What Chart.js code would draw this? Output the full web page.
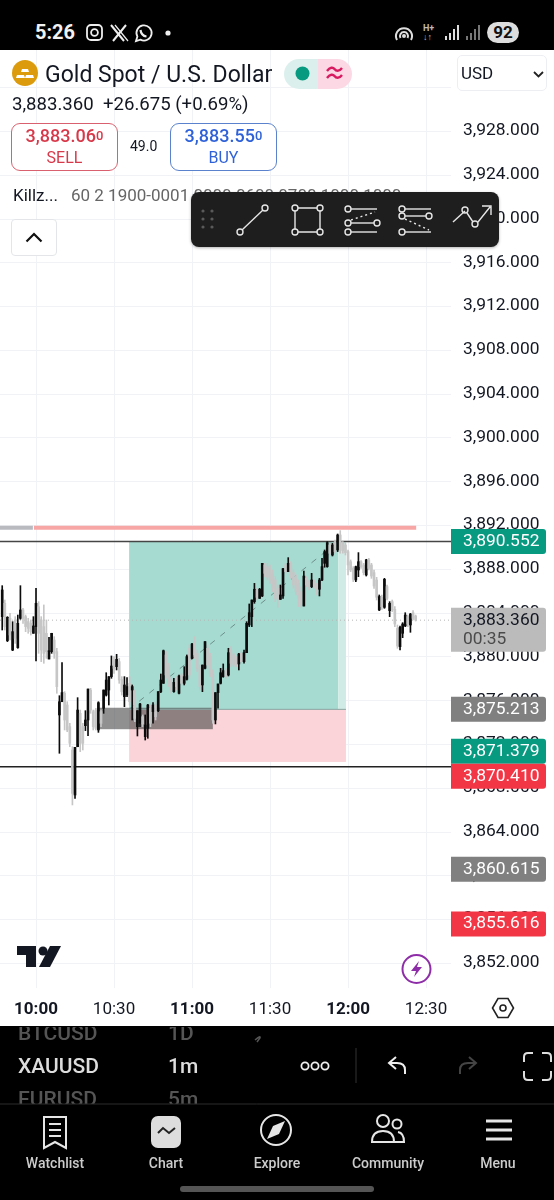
<!DOCTYPE html>
<html>
<head>
<meta charset="utf-8">
<title>Gold Spot / U.S. Dollar</title>
<script src="https://cdn.jsdelivr.net/npm/chart.js@4"></script>
<style>
html,body{margin:0;padding:0;background:#fff}
body{width:554px;height:1200px;position:relative;overflow:hidden;font-family:Roboto,sans-serif;color:#131722}
#chart{position:absolute;left:0;top:50px}
.a{position:absolute;white-space:nowrap}
svg{position:absolute;overflow:visible}
.btn{position:absolute;box-sizing:border-box;width:107px;height:48px;top:123px;border-radius:9px;background:#fff;text-align:center}
.btn b{display:block;font-weight:500;font-size:18px;line-height:20px;margin-top:2px}
.btn b small{font-size:13px;position:relative;top:-2px}
.btn span{display:block;font-size:16px;line-height:20px}
.nav{position:absolute;top:1155px;font-size:14px;font-weight:500;color:#ccc;transform:translateX(-50%)}
.row{position:absolute;font-size:21px;font-weight:500}
</style>
</head>
<body>
<canvas id="chart" width="554" height="976"></canvas>

<!-- status bar -->
<div class="a" style="left:0;top:0;width:554px;height:50px;background:#000"></div>
<div class="a" style="left:35px;top:20px;font-size:20px;font-weight:700;color:#f2f2f2">5:26</div>
<svg style="left:86px;top:24px" width="18" height="18" fill="none" stroke="#eee" stroke-width="1.8"><rect x="1" y="1" width="15" height="15" rx="4"/><circle cx="8.5" cy="8.5" r="3.4"/></svg>
<svg style="left:110px;top:24px" width="20" height="18" stroke="#eee" fill="none"><path d="M1 1 L14 17 M16 1 L3 17" stroke-width="2"/><path d="M5 1 L18 17" stroke-width="1.2"/></svg>
<svg style="left:134px;top:24px" width="19" height="19" fill="none" stroke="#eee" stroke-width="1.8"><path d="M2 17 L3.4 12.6 A7.6 7.6 0 1 1 6.4 15.6 Z"/><path d="M6.5 6 C7 10 9 12 12.5 12.5" stroke-width="2.2"/></svg>
<svg style="left:165px;top:30px" width="6" height="6"><circle cx="3" cy="3" r="2.6" fill="#eee"/></svg>
<svg style="left:395px;top:25px" width="18" height="18" fill="none" stroke="#ddd" stroke-width="2"><path d="M2 15 A8 8 0 1 1 16 15"/><path d="M5.5 13 A4 4 0 1 1 12.5 13"/><circle cx="9" cy="11" r="1" fill="#ddd"/></svg>
<div class="a" style="left:423px;top:24px;font-size:9px;font-weight:700;color:#bbb;line-height:9px">H+<br>↓↑</div>
<svg style="left:444px;top:24px" width="38" height="18" fill="#ddd"><rect x="1" y="12" width="2" height="4"/><rect x="5" y="9" width="2" height="7"/><rect x="9" y="5" width="2" height="11"/><rect x="13" y="1" width="2" height="15" /><g fill="#777"><rect x="22" y="12" width="2" height="4"/><rect x="26" y="9" width="2" height="7"/><rect x="30" y="5" width="2" height="11"/><rect x="34" y="1" width="2" height="15"/></g></svg>
<div class="a" style="left:487px;top:22px;width:32px;height:21px;border-radius:11px;background:#ddd;color:#111;font-size:17px;font-weight:700;text-align:center;line-height:21px">92</div>

<!-- symbol header -->
<svg style="left:12px;top:60px" width="27" height="27"><circle cx="13" cy="13" r="13" fill="#dc9b0c"/><path d="M10 9h6l1 3H9zM5 15h7l1 3H4zM14 15h7l1 3h-9z" fill="#fff"/></svg>
<div class="a" style="left:45px;top:61px;font-size:23px">Gold Spot / U.S. Dollar</div>
<div class="a" style="left:284px;top:59px;width:34px;height:30px;border-radius:15px 0 0 15px;background:#dbf0ec"></div>
<div class="a" style="left:318px;top:59px;width:34px;height:30px;border-radius:0 15px 15px 0;background:#fbd8e3"></div>
<svg style="left:295px;top:66px" width="15" height="15"><circle cx="7.5" cy="7.5" r="7" fill="#089981"/></svg>
<svg style="left:326px;top:66px" width="17" height="15" fill="none" stroke="#d81b60" stroke-width="2.4"><path d="M1 5 C4 1 7 1 8.500 3 S13 6 16 2"/><path d="M1 12 C4 8 7 8 8.500 10 S13 13 16 9"/></svg>
<div class="a" style="left:457px;top:55px;width:90px;height:36px;box-sizing:border-box;border:1px solid #eceef2;border-radius:5px;background:#fff"></div>
<div class="a" style="left:461px;top:63px;font-size:17px">USD</div>
<svg style="left:533px;top:71px" width="11" height="7" fill="none" stroke="#222" stroke-width="1.8"><path d="M1 1 L5.500 5.500 L10 1"/></svg>
<div class="a" style="left:12px;top:93px;font-size:18.600px">3,883.360&nbsp; +26.675 (+0.69%)</div>
<div class="btn" style="left:11px;border:1px solid #d9616f;color:#d8394a"><b>3,883.06<small>0</small></b><span>SELL</span></div>
<div class="a" style="left:130px;top:138px;font-size:14px">49.0</div>
<div class="btn" style="left:170px;border:1px solid #5b82cc;color:#2f62d9"><b>3,883.55<small>0</small></b><span>BUY</span></div>
<div class="a" style="left:13px;top:185px;font-size:17px">Killz...</div>
<div class="a" style="left:71px;top:185px;font-size:17px;color:#666">60 2 1900-0001 0000 0600 0700 1000 1000</div>
<div class="a" style="left:11px;top:219px;width:46px;height:37px;box-sizing:border-box;border:1px solid #e3e5e9;border-radius:4px;background:#fff"></div>
<svg style="left:25px;top:232px" width="18" height="11" fill="none" stroke="#111" stroke-width="2.2"><path d="M1.500 9.500 L9 2 L16.500 9.500"/></svg>

<!-- drawing toolbar -->
<div class="a" style="left:191px;top:192px;width:308px;height:55px;border-radius:8px;background:#1e1e1e;box-shadow:0 1px 3px rgba(0,0,0,.3)"></div>
<svg style="left:191px;top:192px" width="308" height="55" fill="none" stroke="#e6e6e6" stroke-width="1.4">
  <g fill="#5a5a5a" stroke="none"><circle cx="12" cy="19" r="1.600"/><circle cx="21" cy="19" r="1.600"/><circle cx="12" cy="27" r="1.600"/><circle cx="21" cy="27" r="1.600"/><circle cx="12" cy="35" r="1.600"/><circle cx="21" cy="35" r="1.600"/></g>
  <circle cx="49" cy="40" r="3"/><circle cx="74" cy="16" r="3"/><path d="M51 38 L72 18"/>
  <circle cx="104" cy="16" r="3"/><circle cx="129" cy="16" r="3"/><circle cx="104" cy="40" r="3"/><circle cx="129" cy="40" r="3"/><path d="M107 16H126M107 40H126M104 19V37M129 19V37"/>
  <circle cx="157" cy="17" r="3"/><path d="M160 17H186"/><circle cx="157" cy="31" r="3"/><circle cx="186" cy="31" r="3"/><path d="M160 31H183"/><circle cx="157" cy="40" r="3"/><path d="M160 40H186"/><path d="M160 28 L184 20" stroke-dasharray="2 3"/>
  <circle cx="211" cy="17" r="3"/><path d="M214 17H240"/><circle cx="211" cy="24" r="3"/><circle cx="238" cy="24" r="3"/><path d="M214 24H235"/><circle cx="211" cy="40" r="3"/><path d="M214 40H240"/><path d="M214 27 L238 38" stroke-dasharray="2 3"/>
  <path d="M262 30 L274 19"/><circle cx="274" cy="18" r="3"/><path d="M276 21 L282 30"/><circle cx="284" cy="32" r="3"/><path d="M287 30 L299 15 M291 14 H300 V23"/>
</svg>

<!-- chart overlay marks -->
<svg style="left:17px;top:945px" width="44" height="23" fill="#131722"><path d="M0 1H19V22H9V10H0Z"/><circle cx="26" cy="6" r="4.500"/><path d="M33 1H44L33 22H22Z"/></svg>
<svg style="left:401px;top:954px" width="30" height="30" fill="none"><circle cx="15.500" cy="15" r="14" stroke="#8e2da8" stroke-width="2" fill="#fff"/><path d="M18 7 L10 17 H15 L13 23 L21 13 H16Z" fill="#8e2da8"/></svg>
<svg style="left:492px;top:997px" width="23" height="22" fill="none" stroke="#222" stroke-width="1.600"><path d="M6 1.500H16L21.500 11L16 20.500H6L0.500 11Z"/><circle cx="11" cy="11" r="3"/></svg>

<!-- bottom black area -->
<div class="a" style="left:0;top:1026px;width:554px;height:174px;background:#000"></div>
<div class="a" style="left:0;top:1027px;width:554px;height:77px;overflow:hidden">
  <div class="row" style="left:18px;top:-6px;color:#555">BTCUSD</div>
  <div class="row" style="left:168px;top:-6px;color:#555">1D</div>
  <div class="row" style="left:18px;top:27px;color:#ddd">XAUUSD</div>
  <div class="row" style="left:168px;top:27px;color:#ddd">1m</div>
  <div class="row" style="left:18px;top:60px;color:#555">EURUSD</div>
  <div class="row" style="left:168px;top:60px;color:#555">5m</div>
</div>
<svg style="left:0;top:1027px" width="554" height="173" fill="none">
  <path d="M255 13 Q261 8 260 11 L257 15" stroke="#555" stroke-width="1.500"/>
  <circle cx="305" cy="39" r="3.600" stroke="#eee" stroke-width="1.800"/><circle cx="315" cy="39" r="3.600" stroke="#eee" stroke-width="1.800"/><circle cx="325" cy="39" r="3.600" stroke="#eee" stroke-width="1.800"/>
  <path d="M356 21V56" stroke="#333"/>
  <path d="M405 47 V43 Q405 36 397 36 H390 M396 30 L389 36 L396 42" stroke="#eee" stroke-width="2"/>
  <path d="M460 47 V43 Q460 36 468 36 H475 M469 30 L476 36 L469 42" stroke="#444" stroke-width="2"/>
  <path d="M533 26 H528 Q524 26 524 30 V35 M524 44 V49 Q524 53 528 53 H533 M542 26 H547 Q551 26 551 30 V35 M551 44 V49 Q551 53 547 53 H542" stroke="#ddd" stroke-width="2"/>
  <path d="M0 77H554" stroke="#2c2c2c"/>
</svg>
<svg style="left:0;top:1104px" width="554" height="96" fill="none" stroke="#e6e6e6" stroke-width="2">
  <path d="M44 13H66V44L55 38L44 44Z M49 20H61M49 26H61M49 32H61"/>
  <rect x="151" y="12" width="30" height="32" rx="7" fill="#ddd" stroke="none"/><path d="M158 29 L163 24 L169 29 L175 24" stroke="#222"/>
  <circle cx="276" cy="26" r="15"/><path d="M285 17 L279 30 L267 35 L273 22Z" fill="#e6e6e6" stroke="none"/>
  <circle cx="383" cy="17" r="6"/><path d="M372 38 Q372 27 383 27 Q394 27 394 38 Z"/><circle cx="397" cy="20" r="4.500"/><path d="M398 28 Q404 29 404 38 H394"/>
  <path d="M486 17H512M486 26H512M486 35H512" stroke-width="3"/>
</svg>
<div class="nav" style="left:55px">Watchlist</div>
<div class="nav" style="left:166px">Chart</div>
<div class="nav" style="left:277px">Explore</div>
<div class="nav" style="left:388px">Community</div>
<div class="nav" style="left:498px">Menu</div>
<div class="a" style="left:180px;top:1186px;width:194px;height:6px;border-radius:3px;background:#555"></div>

<script>
// minutes counted from 10:00, one candle per minute
let candleMinutes = [-13,-12,-11,-10,-9,-8,-7,-6,-5,-4,-3,-2,-1,0,1,2,3,4,5,6,
  7,8,9,10,11,12,13,14,15,16,17,18,19,20,21,22,23,24,25,26,
  27,28,29,30,31,32,33,34,35,36,37,38,39,40,41,42,43,44,45,46,
  47,48,49,50,51,52,53,54,55,56,57,58,59,60,61,62,63,64,65,66,
  67,68,69,70,71,72,73,74,75,76,77,78,79,80,81,82,83,84,85,86,
  87,88,89,90,91,92,93,94,95,96,97,98,99,100,101,102,103,104,105,106,
  107,108,109,110,111,112,113,114,115,116,117,118,119,120,121,122,123,124,125,126,
  127,128,129,130,131,132,133,134,135,136,137,138,139,140,141,142,143,144,145,146];

let highs = [3886.51,3885.20,3883.68,3883.98,3883.22,3883.68,3883.83,3886.51,3884.44,3883.83,
  3883.53,3883.38,3883.68,3886.27,3885.05,3883.68,3884.75,3883.38,3881.79,3882.16,
  3881.85,3880.79,3876.46,3879.48,3876.83,3875.91,3873.94,3871.80,3871.74,3876.28,
  3875.15,3873.94,3875.09,3877.07,3877.13,3875.15,3875.31,3875.91,3875.15,3876.98,
  3878.56,3878.20,3880.09,3880.03,3880.24,3879.87,3878.20,3878.20,3878.11,3878.20,
  3877.44,3876.98,3875.09,3875.76,3874.70,3874.70,3875.67,3875.61,3875.82,3875.91,
  3876.83,3878.44,3880.63,3880.48,3879.42,3878.20,3878.05,3878.20,3878.35,3878.50,
  3879.11,3880.18,3881.09,3881.24,3881.85,3880.63,3879.26,3879.26,3881.40,3881.09,
  3880.33,3878.81,3876.74,3877.53,3878.96,3879.36,3878.96,3880.79,3880.94,3880.33,
  3880.03,3880.33,3880.48,3880.63,3883.22,3884.84,3885.20,3886.72,3886.27,3886.27,
  3888.55,3888.55,3888.55,3888.40,3887.94,3887.33,3886.57,3886.57,3888.09,3888.55,
  3889.07,3888.70,3887.94,3887.49,3887.03,3886.42,3887.85,3887.33,3887.03,3887.64,
  3887.03,3886.72,3887.18,3889.01,3889.77,3890.53,3890.38,3890.38,3890.68,3891.23,
  3891.54,3890.53,3890.38,3889.77,3888.86,3888.25,3888.31,3889.53,3888.80,3888.55,
  3888.92,3889.01,3888.55,3887.94,3887.27,3885.66,3885.66,3887.18,3886.57,3885.05,
  3885.20,3884.59,3882.92,3882.83,3883.13,3884.04,3883.83,3883.98,3884.23,3883.83];

let lows = [3882.46,3882.46,3881.40,3881.55,3880.57,3881.24,3880.79,3883.44,3883.07,3882.31,
  3882.16,3882.00,3882.16,3879.63,3880.33,3879.57,3879.42,3879.87,3879.81,3880.33,
  3879.87,3876.68,3871.20,3875.91,3873.33,3873.17,3871.80,3866.48,3867.08,3871.80,
  3871.35,3871.50,3873.27,3872.81,3874.85,3873.33,3873.33,3873.11,3873.63,3874.85,
  3876.43,3875.61,3878.05,3878.50,3878.81,3877.59,3876.52,3875.46,3876.37,3875.61,
  3874.24,3874.09,3872.78,3873.63,3873.63,3872.41,3872.57,3873.63,3873.94,3874.24,
  3875.00,3876.74,3877.59,3878.05,3877.29,3876.68,3876.77,3876.98,3876.62,3877.44,
  3877.44,3877.89,3878.05,3879.81,3879.87,3878.66,3876.98,3876.83,3878.90,3878.96,
  3878.20,3873.94,3873.88,3875.31,3877.53,3878.14,3878.05,3878.26,3879.11,3879.11,
  3879.11,3878.81,3879.42,3879.42,3880.39,3882.77,3882.77,3884.90,3885.20,3885.35,
  3885.51,3887.33,3887.03,3886.72,3885.96,3885.05,3884.53,3885.26,3885.35,3887.64,
  3887.79,3887.18,3886.27,3885.66,3884.59,3884.53,3884.65,3886.42,3886.12,3886.33,
  3886.27,3885.66,3885.57,3886.97,3888.19,3888.19,3889.31,3889.22,3889.47,3889.62,
  3889.47,3889.47,3889.31,3887.49,3887.79,3886.88,3886.88,3887.33,3888.09,3887.49,
  3887.39,3887.94,3887.18,3886.27,3885.20,3884.23,3884.35,3884.44,3885.20,3883.68,
  3884.14,3882.77,3880.79,3880.63,3881.76,3882.77,3882.77,3882.25,3883.38,3883.28];

let opens = [3883.68,3884.90,3881.49,3883.53,3880.63,3883.38,3880.85,3883.53,3884.29,3883.68,
  3883.22,3883.07,3882.16,3882.77,3884.59,3883.38,3882.77,3882.16,3879.81,3880.48,
  3881.55,3880.48,3874.70,3875.91,3876.68,3875.61,3873.63,3871.50,3867.39,3871.80,
  3874.85,3873.63,3873.72,3874.24,3876.98,3875.00,3875.15,3873.33,3875.00,3875.31,
  3876.52,3876.98,3878.20,3879.72,3879.11,3879.57,3877.95,3876.37,3876.52,3877.59,
  3876.98,3876.37,3873.63,3873.94,3874.54,3872.72,3873.48,3875.31,3875.00,3875.61,
  3875.09,3876.83,3877.59,3880.18,3879.11,3877.95,3876.83,3877.95,3876.68,3878.35,
  3877.59,3877.95,3880.79,3879.87,3881.40,3880.33,3878.96,3877.44,3878.96,3880.79,
  3880.03,3878.50,3874.24,3876.74,3877.59,3878.20,3878.81,3878.35,3880.63,3880.18,
  3879.87,3879.36,3880.33,3879.57,3880.39,3882.92,3883.68,3885.05,3886.12,3885.35,
  3885.57,3888.40,3888.25,3888.09,3887.64,3887.03,3886.27,3885.26,3885.57,3888.40,
  3887.79,3888.55,3887.70,3887.18,3886.72,3885.96,3884.65,3887.18,3886.88,3886.42,
  3886.88,3886.57,3886.18,3887.03,3888.55,3888.25,3890.23,3889.31,3890.53,3889.77,
  3891.14,3890.38,3890.23,3889.62,3888.70,3888.09,3887.03,3887.94,3888.70,3888.40,
  3887.49,3888.86,3888.40,3887.70,3887.03,3884.29,3885.45,3884.53,3886.42,3884.23,
  3885.05,3884.35,3882.61,3880.94,3882.16,3882.83,3883.68,3882.92,3884.04,3883.74];

let closes = [3886.12,3882.77,3883.62,3882.00,3882.31,3881.70,3883.07,3884.29,3883.53,3882.77,
  3882.61,3882.31,3882.83,3884.90,3882.16,3880.63,3880.33,3880.48,3880.57,3882.16,
  3880.33,3877.29,3875.91,3876.74,3874.24,3873.33,3872.11,3867.54,3871.74,3875.15,
  3872.11,3872.11,3874.24,3877.07,3875.15,3873.63,3873.48,3875.82,3873.94,3876.98,
  3877.89,3878.20,3879.17,3878.96,3879.78,3877.89,3876.83,3877.44,3877.29,3875.91,
  3877.29,3874.39,3875.09,3875.70,3873.88,3873.78,3875.61,3873.94,3875.61,3874.54,
  3876.83,3877.89,3880.57,3878.35,3877.59,3876.98,3877.68,3877.29,3878.26,3877.59,
  3878.20,3880.03,3878.35,3881.18,3880.18,3878.96,3877.29,3879.26,3881.40,3879.26,
  3878.50,3874.24,3876.74,3877.53,3878.56,3878.75,3878.20,3880.39,3879.42,3879.26,
  3879.36,3880.27,3879.57,3880.39,3883.07,3884.04,3885.20,3886.18,3885.45,3886.18,
  3888.55,3887.64,3887.27,3887.03,3886.27,3885.35,3885.26,3885.66,3888.06,3887.79,
  3888.55,3887.49,3886.57,3885.96,3885.35,3884.75,3887.39,3886.57,3886.27,3887.03,
  3886.42,3885.96,3887.03,3888.25,3889.62,3890.44,3889.47,3890.23,3889.62,3891.14,
  3889.77,3889.71,3889.53,3888.40,3887.94,3887.09,3888.25,3888.70,3888.25,3887.70,
  3888.86,3888.09,3887.39,3886.48,3885.45,3885.51,3884.59,3887.09,3885.35,3884.90,
  3884.29,3883.01,3881.00,3882.71,3883.01,3883.83,3883.01,3883.92,3883.53,3883.38];

let priceTicks = [3928,3924,3920,3916,3912,3908,3904,3900,3896,3892,3888,3884,3880,3876,3872,3868,3864,3860,3856,3852];
let gridPrices = [3932,3928,3924,3920,3916,3912,3908,3904,3900,3896,3892,3888,3884,3880,3876,3872,3868,3864,3860,3856,3852];
let timeTicks = [0,30,60,90,120,150];
let timeLabels = ['10:00','10:30','11:00','11:30','12:00','12:30'];
let boldTimes = ['10:00','11:00','12:00'];

// long position tool
let tradeStart = 35.8, tradeFilled = 116.2, tradeEnd = 119.2;
let targetPrice = 3890.552, entryPrice = 3875.213, stopPrice = 3870.41;
// grey order block
let blockStart = 23.5, blockEnd = 68, blockTop = 3875.36, blockBottom = 3873.4;
// levels
let lastPrice = 3883.36, lowerLevel = 3869.97, killzonePrice = 3891.8;
let killzoneGrey = [-13.85, -1.2], killzonePink = [-0.8, 146.2];

let pillPrices = [3890.552, 3883.36, 3875.213, 3871.379, 3870.41, 3860.615, 3855.616];
let pillKinds = ['teal', 'last', 'grey', 'teal', 'red', 'grey', 'red'];

let xMin = -13.85, xMax = 159.6, yMin = 3849.76, yMax = 3935.44;
let labelShift = 0.05; // tick text sits a little above its grid line

const pillFill = {teal:'#089981', last:'#bbbbbb', grey:'#808080', red:'#f23645'};
const money = v => v.toLocaleString('en-US', {minimumFractionDigits:3, maximumFractionDigits:3});

let wickData = candleMinutes.map((m, i) => ({x:m, y:[lows[i], highs[i]]}));
let bodyData = candleMinutes.map((m, i) => ({x:m, y:[opens[i], closes[i]]}));
let markColors = candleMinutes.map((m, i) => closes[i] >= opens[i] ? '#0c0c0c' : '#c6c6c6');

function levelLine(x0, x1, price, color, width, dash) {
    return {type:'line', data:[{x:x0, y:price}, {x:x1, y:price}], borderColor:color, borderWidth:width,
        borderDash:dash || [], pointRadius:0, order:3, yAxisID:'y'};
}

function noPadding(s) {
    s.paddingLeft = s.paddingRight = s.paddingTop = s.paddingBottom = 0;
}

const zones = {
    id:'zones',
    beforeDatasetsDraw(chart) {
        const {ctx, scales:{x, y}} = chart;
        const box = (x0, x1, top, bottom, color) => {
            ctx.fillStyle = color;
            ctx.fillRect(x.getPixelForValue(x0), y.getPixelForValue(top),
                x.getPixelForValue(x1) - x.getPixelForValue(x0), y.getPixelForValue(bottom) - y.getPixelForValue(top));
        };
        box(tradeStart, tradeFilled, targetPrice, entryPrice, '#a6dbd1');
        box(tradeFilled, tradeEnd, targetPrice, entryPrice, '#d0ebe6');
        box(tradeStart, tradeEnd, entryPrice, stopPrice, '#fad4d9');
        box(blockStart, blockEnd, blockTop, blockBottom, 'rgba(70,70,70,.6)');
        ctx.strokeStyle = '#8aa5a0';
        ctx.lineWidth = 1;
        ctx.beginPath();
        ctx.moveTo(x.getPixelForValue(tradeStart), y.getPixelForValue(entryPrice));
        ctx.lineTo(x.getPixelForValue(tradeEnd), y.getPixelForValue(entryPrice));
        ctx.stroke();
    }
};

const pills = {
    id:'pills',
    afterDraw(chart) {
        const {ctx, chartArea, scales:{y}} = chart;
        const left = chartArea.right, w = 95;
        let bottom = -1;
        pillPrices.forEach((p, i) => {
            const last = pillKinds[i] === 'last';
            const h = last ? 44 : 25;
            const top = Math.max(y.getPixelForValue(p) - 12.5, bottom);
            bottom = top + h;
            ctx.fillStyle = pillFill[pillKinds[i]];
            ctx.beginPath();
            ctx.roundRect(left, top, w, h, [0, 3, 3, 0]);
            ctx.fill();
            ctx.font = '17.4px Roboto';
            ctx.textAlign = 'left';
            ctx.textBaseline = 'middle';
            ctx.fillStyle = last ? '#131722' : '#fff';
            ctx.fillText(money(p), left + 12, top + 12.5);
            if (last) {
                ctx.fillStyle = '#4a4a4a';
                ctx.fillText('00:35', left + 12, top + 32);
            }
        });
    }
};

new Chart(document.getElementById('chart'), {
    data: {
        datasets: [
            levelLine(xMin, xMax, targetPrice, '#454545', 1.5),
            levelLine(xMin, xMax, lowerLevel, '#222', 1.5),
            levelLine(xMin, xMax, lastPrice, '#b5b5b5', 1, [1, 3]),
            levelLine(killzoneGrey[0], killzoneGrey[1], killzonePrice, '#b9bac0', 4),
            levelLine(killzonePink[0], killzonePink[1], killzonePrice, '#f8a5a5', 4),
            {type:'line', data:[{x:tradeStart, y:entryPrice}, {x:tradeFilled, y:targetPrice}], borderColor:'#6f8f8a',
                borderWidth:1, borderDash:[6, 7], pointRadius:0, order:3},
            {type:'bar', data:wickData, backgroundColor:markColors, barThickness:1, grouped:false, order:2},
            {type:'bar', data:bodyData, backgroundColor:markColors, barThickness:2, minBarLength:1, grouped:false, order:1}
        ]
    },
    plugins: [zones, pills],
    options: {
        responsive:false,
        animation:false,
        events:[],
        layout:{padding:0},
        plugins:{legend:{display:false}, tooltip:{enabled:false}},
        scales:{
            x:{
                type:'linear', min:xMin, max:xMax, position:'bottom', offset:false,
                afterBuildTicks(s){ s.ticks = timeTicks.map(v => ({value:v})); },
                afterFit(s){ s.height = 38; noPadding(s); },
                grid:{color:'#f0f2f5', drawTicks:false, offset:false},
                border:{display:false},
                ticks:{
                    maxRotation:0, autoSkip:false, padding:12, color:'#131722',
                    callback:(v) => timeLabels[timeTicks.indexOf(v)],
                    font:(c) => ({family:'Roboto', size:17, weight: boldTimes.includes(timeLabels[c.index]) ? '700' : '400'})
                }
            },
            y:{
                type:'linear', min:yMin, max:yMax, position:'right',
                afterBuildTicks(s){ s.ticks = gridPrices.map(v => ({value:v})); },
                afterFit(s){ s.width = 0; noPadding(s); },
                grid:{color:'#f0f2f5', drawTicks:false},
                border:{display:false},
                ticks:{display:false}
            },
            yLabels:{
                axis:'y', type:'linear', min:yMin - labelShift, max:yMax - labelShift, position:'right',
                afterBuildTicks(s){ s.ticks = priceTicks.map(v => ({value:v})); },
                afterFit(s){ s.width = 103; noPadding(s); },
                grid:{display:false, drawTicks:false},
                border:{display:false},
                ticks:{
                    crossAlign:'near', padding:12, color:'#131722', autoSkip:false,
                    font:{family:'Roboto', size:17.4},
                    callback:(v) => money(v)
                }
            }
        }
    }
});
</script>
</body>
</html>
